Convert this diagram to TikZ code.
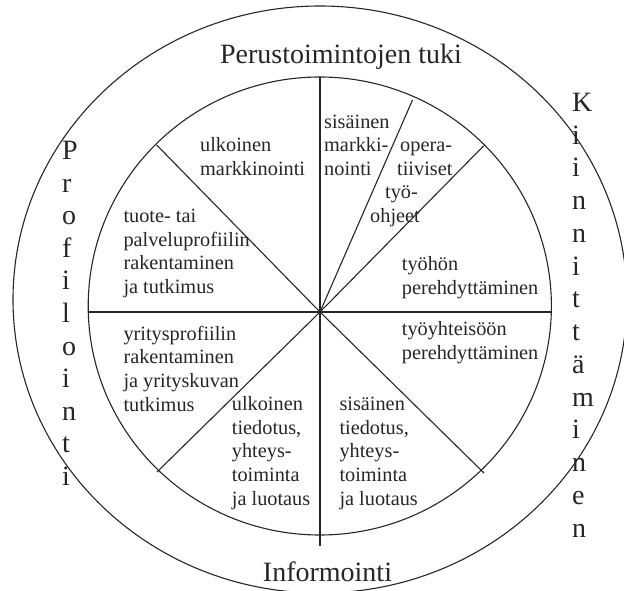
\documentclass[tikz,border=0pt]{standalone}
\usepackage{fontspec}
\setmainfont{Liberation Serif}

\tikzset{
  lbl/.style={font=\fontsize{20.3}{23.6}\selectfont, align=left, anchor=base west, inner sep=0pt, text=black!85},
  side/.style={font=\fontsize{28}{32.6}\selectfont, align=left, anchor=base west, inner sep=0pt, text=black!85},
  ring/.style={line width=1.1pt, draw=black!85},
  spoke/.style={line width=1.1pt, draw=black!85}
}

\begin{document}
\begin{tikzpicture}[x=1pt,y=-1pt]
        %% canvas
        \useasboundingbox (0,0) rectangle (624,591);
        \clip (0,0) rectangle (624,591);

        %% define points
        \def\Hx{320};
        \def\Hy{312};
        \def\Cx{319.8};
        \def\Cy{306};

        \coordinate (hub) at (\Hx,\Hy);
        \coordinate (up) at (\Hx,77);
        \coordinate (down) at (\Hx,546);
        \coordinate (left) at (88,\Hy);
        \coordinate (right) at (551.3,\Hy);
        \coordinate (ul) at (156.7,145);
        \coordinate (ur) at (483.5,146);
        \coordinate (steep) at (412.5,100);
        \coordinate (ll) at (157,472);
        \coordinate (lr) at (484,473);

        %% rings
        \draw[ring] (320,299.5) ellipse [x radius=307pt, y radius=293.5pt];
        \draw[ring] (\Cx,\Cy) ellipse [x radius=231.6pt, y radius=229pt];

        %% spokes
        \draw[spoke] (up) -- (down);
        \draw[spoke] (left) -- (right);
        \draw[spoke] (hub) -- (ul);
        \draw[spoke] (hub) -- (ur);
        \draw[spoke] (hub) -- (steep);
        \draw[spoke] (hub) -- (ll);
        \draw[spoke] (hub) -- (lr);

        %% outer texts (base = last line)
        \node[side, anchor=base] (tuki) at (341,63.5) {Perustoimintojen tuki};
        \node[side, anchor=base] (info) at (327.5,581.7) {Informointi};
        \node[side] (prof) at (62,485.5) {P\\r\\o\\f\\i\\l\\o\\i\\n\\t\\i};
        \node[side, font=\fontsize{28}{32.75}\selectfont] (kiin) at (572,537)
              {K\\i\\i\\n\\n\\i\\t\\t\\ä\\m\\i\\n\\e\\n};

        %% sector texts (base = last line)
        \node[lbl] (ulkm) at (200,175.3) {ulkoinen\\markkinointi};
        \node[lbl] (sism) at (324,175.5) {sisäinen\\markki-\\nointi};
        \node[lbl] (oper) at (370,222.3)
              {\hspace*{30pt}opera-\\\hspace*{27pt}tiiviset\\\hspace*{15pt}työ-\\ohjeet};
        \node[lbl] (tuote) at (123.3,293.5) {tuote- tai\\palveluprofiilin\\rakentaminen\\ja tutkimus};
        \node[lbl] (tyoh) at (401.7,294) {työhön\\perehdyttäminen};
        \node[lbl] (yrit) at (123.3,411) {yritysprofiilin\\rakentaminen\\ja yrityskuvan\\tutkimus};
        \node[lbl] (tyoy) at (401.7,359) {työyhteisöön\\perehdyttäminen};
        \node[lbl] (ulkt) at (231.7,505) {ulkoinen\\tiedotus,\\yhteys-\\toiminta\\ja luotaus};
        \node[lbl] (sist) at (339.3,505) {sisäinen\\tiedotus,\\yhteys-\\toiminta\\ja luotaus};
\end{tikzpicture}
\end{document}
